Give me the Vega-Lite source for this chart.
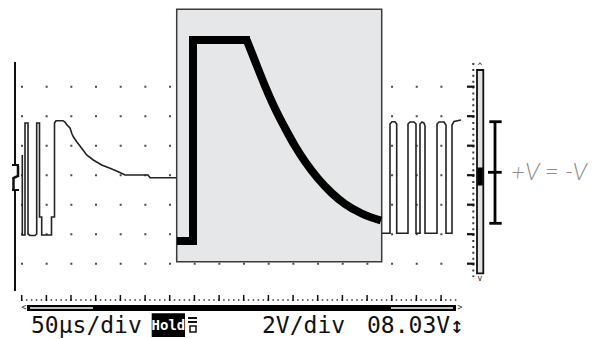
{
  "$schema": "https://vega.github.io/schema/vega-lite/v6.json",
  "width": 601,
  "height": 339,
  "autosize": {"type": "none"},
  "padding": 0,
  "background": "white",
  "config": {"view": {"stroke": null}},
  "encoding": {
    "x": {"field": "x", "type": "quantitative", "scale": {"domain": [0, 601], "nice": false, "zero": false}, "axis": null},
    "y": {"field": "y", "type": "quantitative", "scale": {"domain": [0, 339], "nice": false, "zero": false, "reverse": true}, "axis": null}
  },
  "layer": [
    {
      "data": {"values": [
        {"x": 21, "x2": 443, "y": 86.7}, {"x": 21, "x2": 443, "y": 116.2}, {"x": 21, "x2": 443, "y": 145.7},
        {"x": 21, "x2": 443, "y": 175.2}, {"x": 21, "x2": 443, "y": 204.7}, {"x": 21, "x2": 443, "y": 234.2},
        {"x": 21, "x2": 443, "y": 263.7}
      ]},
      "mark": {"type": "rule", "strokeWidth": 2, "strokeDash": [2, 22.67], "color": "#4a4a4a"},
      "encoding": {"x2": {"field": "x2"}}
    },
    {
      "data": {"values": [{"x": 473.3, "y": 63, "y2": 277}]},
      "mark": {"type": "rule", "strokeWidth": 2, "strokeDash": [2, 3.9], "color": "#3a3a3a"},
      "encoding": {"y2": {"field": "y2"}}
    },
    {
      "data": {"values": [
        {"x": 467, "x2": 474.5, "y": 86.7}, {"x": 467, "x2": 474.5, "y": 116.2}, {"x": 467, "x2": 474.5, "y": 145.7},
        {"x": 467, "x2": 474.5, "y": 175.2}, {"x": 467, "x2": 474.5, "y": 204.7}, {"x": 467, "x2": 474.5, "y": 234.2},
        {"x": 467, "x2": 474.5, "y": 263.7}
      ]},
      "mark": {"type": "rule", "strokeWidth": 2.2, "color": "#111"},
      "encoding": {"x2": {"field": "x2"}}
    },
    {
      "data": {"values": [{"x": 21, "x2": 457, "y": 300}]},
      "mark": {"type": "rule", "strokeWidth": 1.5, "strokeDash": [1.5, 3.43], "color": "#333"},
      "encoding": {"x2": {"field": "x2"}}
    },
    {
      "data": {"values": [
        {"x": 21.7, "y": 295, "y2": 301}, {"x": 46.4, "y": 295, "y2": 301}, {"x": 71.0, "y": 295, "y2": 301},
        {"x": 95.7, "y": 295, "y2": 301}, {"x": 120.4, "y": 295, "y2": 301}, {"x": 145.1, "y": 295, "y2": 301},
        {"x": 169.7, "y": 295, "y2": 301}, {"x": 194.4, "y": 295, "y2": 301}, {"x": 219.1, "y": 295, "y2": 301},
        {"x": 243.7, "y": 295, "y2": 301}, {"x": 268.4, "y": 295, "y2": 301}, {"x": 293.1, "y": 295, "y2": 301},
        {"x": 317.7, "y": 295, "y2": 301}, {"x": 342.4, "y": 295, "y2": 301}, {"x": 367.1, "y": 295, "y2": 301},
        {"x": 391.8, "y": 295, "y2": 301}, {"x": 416.4, "y": 295, "y2": 301}, {"x": 441.1, "y": 295, "y2": 301}
      ]},
      "mark": {"type": "rule", "strokeWidth": 1.5, "color": "#111"},
      "encoding": {"y2": {"field": "y2"}}
    },
    {
      "data": {"values": [
        {"x": 15, "y": 62, "x2": 15, "y2": 165},
        {"x": 15, "y": 190, "x2": 15, "y2": 291},
        {"x": 12, "y": 165, "x2": 19, "y2": 165},
        {"x": 12, "y": 190, "x2": 19, "y2": 190},
        {"x": 188, "y": 318, "x2": 197, "y2": 318},
        {"x": 188, "y": 322, "x2": 197, "y2": 322}
      ]},
      "mark": {"type": "rule", "strokeWidth": 2, "color": "#111"},
      "encoding": {"x2": {"field": "x2"}, "y2": {"field": "y2"}}
    },
    {
      "data": {"values": [
        {"x": 27, "x2": 456, "y": 305, "y2": 311},
        {"x": 151.7, "x2": 185, "y": 313.3, "y2": 337}
      ]},
      "mark": {"type": "rect", "color": "#000"},
      "encoding": {"x2": {"field": "x2"}, "y2": {"field": "y2"}}
    },
    {
      "data": {"values": [
        {"x": 30, "x2": 93, "y": 307.2, "y2": 308.8},
        {"x": 391, "x2": 453, "y": 307.2, "y2": 308.8}
      ]},
      "mark": {"type": "rect", "color": "#fff"},
      "encoding": {"x2": {"field": "x2"}, "y2": {"field": "y2"}}
    },
    {
      "data": {"values": [{"x": 190, "x2": 196, "y": 326, "y2": 332}]},
      "mark": {"type": "rect", "fill": null, "stroke": "#111", "strokeWidth": 1.5},
      "encoding": {"x2": {"field": "x2"}, "y2": {"field": "y2"}}
    },
    {
      "data": {"values": [
        {"x": 24, "y": 310, "t": "<"},
        {"x": 460, "y": 310, "t": ">"},
        {"x": 480, "y": 69, "t": "^"},
        {"x": 480, "y": 281, "t": "v"}
      ]},
      "mark": {"type": "text", "font": "DejaVu Sans Mono", "fontSize": 8, "align": "center", "baseline": "alphabetic", "color": "#222"},
      "encoding": {"text": {"field": "t"}}
    },
    {
      "data": {"values": [
        {"x": 31, "y": 333, "t": "50µs/div"},
        {"x": 262, "y": 333, "t": "2V/div"},
        {"x": 367, "y": 333, "t": "08.03V↕"}
      ]},
      "mark": {"type": "text", "font": "DejaVu Sans Mono", "fontSize": 23, "align": "left", "baseline": "alphabetic", "color": "#111"},
      "encoding": {"text": {"field": "t"}}
    },
    {
      "data": {"values": [{"x": 168.4, "y": 330, "t": "Hold"}]},
      "mark": {"type": "text", "font": "DejaVu Sans Mono", "fontWeight": "bold", "fontSize": 14, "align": "center", "baseline": "alphabetic", "color": "#fff"},
      "encoding": {"text": {"field": "t"}}
    },
    {
      "data": {"values": [
        {"g": "ground", "x": 18, "y": 166}, {"g": "ground", "x": 18, "y": 176}, {"g": "ground", "x": 13.5, "y": 178}, {"g": "ground", "x": 13.5, "y": 189}
      ]},
      "mark": {"type": "line", "strokeWidth": 2.5, "color": "#111"},
      "encoding": {"order": {"value": null}, "detail": {"field": "g"}}
    },
    {
      "data": {"values": [
        {"g": "L", "x": 22.3, "y": 155}, {"g": "L", "x": 22.3, "y": 235}, {"g": "L", "x": 25, "y": 235},
        {"g": "L", "x": 25, "y": 123}, {"g": "L", "x": 28, "y": 123}, {"g": "L", "x": 28, "y": 234},
        {"g": "L", "x": 30, "y": 235.5}, {"g": "L", "x": 35, "y": 235.5}, {"g": "L", "x": 36.7, "y": 234},
        {"g": "L", "x": 36.7, "y": 123}, {"g": "L", "x": 39.5, "y": 123}, {"g": "L", "x": 39.5, "y": 217},
        {"g": "L", "x": 41.7, "y": 217}, {"g": "L", "x": 41.7, "y": 235}, {"g": "L", "x": 51.5, "y": 235},
        {"g": "L", "x": 51.5, "y": 217}, {"g": "L", "x": 54.5, "y": 217}, {"g": "L", "x": 54.5, "y": 123},
        {"g": "L", "x": 56, "y": 120.7}, {"g": "L", "x": 63, "y": 120.7}, {"g": "L", "x": 65, "y": 122},
        {"g": "L", "x": 67, "y": 125}, {"g": "L", "x": 70, "y": 128}, {"g": "L", "x": 72, "y": 134},
        {"g": "L", "x": 73.5, "y": 137}, {"g": "L", "x": 76.7, "y": 141.7}, {"g": "L", "x": 81.7, "y": 148.3},
        {"g": "L", "x": 86.7, "y": 155}, {"g": "L", "x": 93.3, "y": 160}, {"g": "L", "x": 101.7, "y": 165},
        {"g": "L", "x": 110, "y": 168.3}, {"g": "L", "x": 118.3, "y": 171.7}, {"g": "L", "x": 125, "y": 175},
        {"g": "L", "x": 148, "y": 175}, {"g": "L", "x": 150, "y": 177.7}, {"g": "L", "x": 177, "y": 177.7},
        {"g": "R", "x": 381, "y": 233.3}, {"g": "R", "x": 390, "y": 233.3}, {"g": "R", "x": 390, "y": 124},
        {"g": "R", "x": 392, "y": 121.7}, {"g": "R", "x": 395, "y": 121.7}, {"g": "R", "x": 396.7, "y": 124},
        {"g": "R", "x": 396.7, "y": 233.3}, {"g": "R", "x": 408, "y": 233.3}, {"g": "R", "x": 408, "y": 124},
        {"g": "R", "x": 410, "y": 122}, {"g": "R", "x": 414, "y": 122}, {"g": "R", "x": 416, "y": 124},
        {"g": "R", "x": 416, "y": 233.3}, {"g": "R", "x": 420, "y": 233.3}, {"g": "R", "x": 420, "y": 124},
        {"g": "R", "x": 422, "y": 122}, {"g": "R", "x": 424, "y": 123}, {"g": "R", "x": 425, "y": 126},
        {"g": "R", "x": 425, "y": 233.3}, {"g": "R", "x": 437, "y": 233.3}, {"g": "R", "x": 437, "y": 124},
        {"g": "R", "x": 439, "y": 122}, {"g": "R", "x": 444, "y": 122}, {"g": "R", "x": 446, "y": 125},
        {"g": "R", "x": 446, "y": 233.3}, {"g": "R", "x": 452, "y": 233.3}, {"g": "R", "x": 452, "y": 125},
        {"g": "R", "x": 454, "y": 121.5}, {"g": "R", "x": 461, "y": 120}
      ]},
      "mark": {"type": "line", "strokeWidth": 1.6, "color": "#222", "strokeJoin": "miter"},
      "encoding": {"order": {"value": null}, "detail": {"field": "g"}}
    },
    {
      "data": {"values": [{"x": 176.7, "x2": 381.7, "y": 9.3, "y2": 261.7}]},
      "mark": {"type": "rect", "fill": "#e6e7e9", "stroke": "#3a3a3a", "strokeWidth": 1.5},
      "encoding": {"x2": {"field": "x2"}, "y2": {"field": "y2"}}
    },
    {
      "data": {"values": [
        {"x": 177, "y": 241}, {"x": 193, "y": 241}, {"x": 193, "y": 40}, {"x": 250, "y": 40}
      ]},
      "mark": {"type": "line", "strokeWidth": 8, "color": "#000", "strokeJoin": "miter", "strokeCap": "butt"},
      "encoding": {"order": {"value": null}}
    },
    {
      "data": {"values": [
        {"x": 246.7, "y": 40}, {"x": 255, "y": 61}, {"x": 265, "y": 86}, {"x": 275, "y": 108.5}, {"x": 285, "y": 128},
        {"x": 295, "y": 146}, {"x": 305, "y": 161.5}, {"x": 318, "y": 178.5}, {"x": 331.7, "y": 193},
        {"x": 345, "y": 204}, {"x": 361.7, "y": 213.5}, {"x": 381, "y": 220.5}
      ]},
      "mark": {"type": "line", "strokeWidth": 8, "color": "#000", "strokeCap": "butt", "interpolate": "monotone"},
      "encoding": {"order": {"value": null}}
    },
    {
      "data": {"values": [{"x": 477, "x2": 483.3, "y": 70, "y2": 273.3}]},
      "mark": {"type": "rect", "fill": "#e2e2e2", "stroke": "#111", "strokeWidth": 1.8},
      "encoding": {"x2": {"field": "x2"}, "y2": {"field": "y2"}}
    },
    {
      "data": {"values": [{"x": 477.5, "x2": 482.8, "y": 167.5, "y2": 185.5}]},
      "mark": {"type": "rect", "color": "#000"},
      "encoding": {"x2": {"field": "x2"}, "y2": {"field": "y2"}}
    },
    {
      "data": {"values": [
        {"x": 495, "y": 121.7, "x2": 495, "y2": 223.3},
        {"x": 489.3, "y": 121.7, "x2": 501.7, "y2": 121.7},
        {"x": 489.3, "y": 223.3, "x2": 501.7, "y2": 223.3},
        {"x": 488, "y": 172.3, "x2": 501.7, "y2": 172.3}
      ]},
      "mark": {"type": "rule", "strokeWidth": 2.8, "color": "#000"},
      "encoding": {"x2": {"field": "x2"}, "y2": {"field": "y2"}}
    },
    {
      "data": {"values": [{"x": 511, "y": 180, "t": "+V = -V"}]},
      "mark": {"type": "text", "font": "Lato", "fontStyle": "italic", "fontWeight": 300, "fontSize": 24, "align": "left", "baseline": "alphabetic", "color": "#8c8c8c"},
      "encoding": {"text": {"field": "t"}}
    }
  ]
}
